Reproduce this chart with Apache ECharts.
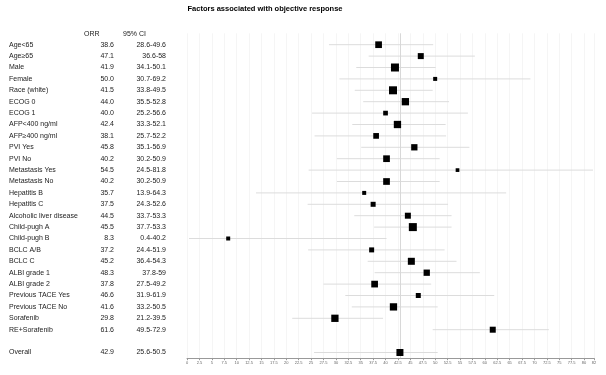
<!DOCTYPE html>
<html><head><meta charset="utf-8">
<script src="https://cdn.jsdelivr.net/npm/echarts@6/dist/echarts.min.js"></script>
<style>html,body{margin:0;padding:0;background:#fff}#c{width:606px;height:375px}</style>
</head><body><div id="c"></div>
<script>
var labels = ["Age<65","Age≥65","Male","Female","Race (white)","ECOG 0","ECOG 1","AFP<400 ng/ml","AFP≥400 ng/ml","PVI Yes","PVI No","Metastasis Yes","Metastasis No","Hepatitis B","Hepatitis C","Alcoholic liver disease","Child-pugh A","Child-pugh B","BCLC A/B","BCLC C","ALBI grade 1","ALBI grade 2","Previous TACE Yes","Previous TACE No","Sorafenib","RE+Sorafenib","Overall"];
var rowPos = [0,1,2,3,4,5,6,7,8,9,10,11,12,13,14,15,16,17,18,19,20,21,22,23,24,25,27];
var orr = [38.6,47.1,41.9,50.0,41.5,44.0,40.0,42.4,38.1,45.8,40.2,54.5,40.2,35.7,37.5,44.5,45.5,8.3,37.2,45.2,48.3,37.8,46.6,41.6,29.8,61.6,42.9];
var ciLow = [28.6,36.6,34.1,30.7,33.8,35.5,25.2,33.3,25.7,35.1,30.2,24.5,30.2,13.9,24.3,33.7,37.7,0.4,24.4,36.4,37.8,27.5,31.9,33.2,21.2,49.5,25.6];
var ciHigh = [49.6,58,50.1,69.2,49.5,52.8,56.6,52.1,52.2,56.9,50.9,81.8,50.9,64.3,52.6,53.3,53.3,40.2,51.9,54.3,59,49.2,61.9,50.5,39.5,72.9,50.5];
var ciText = ["28.6-49.6","36.6-58","34.1-50.1","30.7-69.2","33.8-49.5","35.5-52.8","25.2-56.6","33.3-52.1","25.7-52.2","35.1-56.9","30.2-50.9","24.5-81.8","30.2-50.9","13.9-64.3","24.3-52.6","33.7-53.3","37.7-53.3","0.4-40.2","24.4-51.9","36.4-54.3","37.8-59","27.5-49.2","31.9-61.9","33.2-50.5","21.2-39.5","49.5-72.9","25.6-50.5"];
var orrText = ["38.6","47.1","41.9","50.0","41.5","44.0","40.0","42.4","38.1","45.8","40.2","54.5","40.2","35.7","37.5","44.5","45.5","8.3","37.2","45.2","48.3","37.8","46.6","41.6","29.8","61.6","42.9"];
var weights = [6.7,6,8,4,8,7.3,4.7,7.3,5.7,6.3,6.7,3.7,6.7,4,5,6,8,4,5,7,6.3,6.7,5,7.3,7.3,6,7];
var refValue = 42.9;
var xMin = 0, xMax = 82, xStep = 2.5;

var FONT = "Liberation Sans";
var chart = echarts.init(document.getElementById('c'), null, {renderer:'canvas'});
var rows = labels.map(function(l,i){ return [orr[i], rowPos[i], ciLow[i], ciHigh[i], weights[i], i]; });

chart.setOption({
  animation:false,
  backgroundColor:'#fff',
  title:{text:'Factors associated with objective response', left:260, top:0, textAlign:'center',
    textStyle:{fontFamily:FONT, fontSize:7.5, fontWeight:'bold', color:'#000'}},
  grid:{left:187, right:12, top:33.3, bottom:16.8, containLabel:false},
  xAxis:{type:'value', min:xMin, max:xMax, interval:xStep,
    axisLine:{show:true, onZero:false, lineStyle:{color:'#999', width:1}},
    axisTick:{show:true, length:2, lineStyle:{color:'#999'}},
    axisLabel:{fontFamily:FONT, fontSize:4, color:'#666', margin:3, showMaxLabel:true, showMinLabel:true},
    splitLine:{show:true, lineStyle:{color:'#f5f5f5', width:1}}},
  yAxis:{type:'value', min:-1, max:27.5, inverse:true, show:false},
  graphic:[
    {type:'text', left:84, top:30.5, style:{text:'ORR', font:'7px '+FONT, fill:'#222'}},
    {type:'text', left:123, top:30.5, style:{text:'95% CI', font:'7px '+FONT, fill:'#222'}}
  ],
  series:[
    {type:'custom', silent:true, data:rows, encode:{x:[0,2,3], y:1},
     renderItem:function(params, api){
       var a = api.coord([api.value(2), api.value(1)]);
       var b = api.coord([api.value(3), api.value(1)]);
       return {type:'line', shape:{x1:a[0], y1:a[1], x2:b[0], y2:b[1]},
               style:{stroke:'#dcdcdc', lineWidth:1}};
     }, z:2},
    {type:'scatter', data:rows, encode:{x:0, y:1}, symbol:'rect',
     symbolSize:function(v){ return v[4]; },
     itemStyle:{color:'#000', opacity:1}, z:5,
     markLine:{silent:true, symbol:'none', label:{show:false},
       lineStyle:{color:'#d8d8d8', type:'solid', width:1},
       data:[{xAxis:refValue}]}},
    {type:'custom', silent:true, data:rows, encode:{y:1},
     renderItem:function(params, api){
       var i = api.value(5);
       var y = api.coord([0, api.value(1)])[1];
       var st = {fontFamily:FONT, fontSize:7, fill:'#222', textVerticalAlign:'middle'};
       return {type:'group', children:[
         {type:'text', style:Object.assign({text:labels[i], x:9, y:y, textAlign:'left'}, st)},
         {type:'text', style:Object.assign({text:orrText[i], x:114, y:y, textAlign:'right'}, st)},
         {type:'text', style:Object.assign({text:ciText[i], x:166, y:y, textAlign:'right'}, st)}
       ]};
     }, z:3}
  ]
});
</script></body></html>
